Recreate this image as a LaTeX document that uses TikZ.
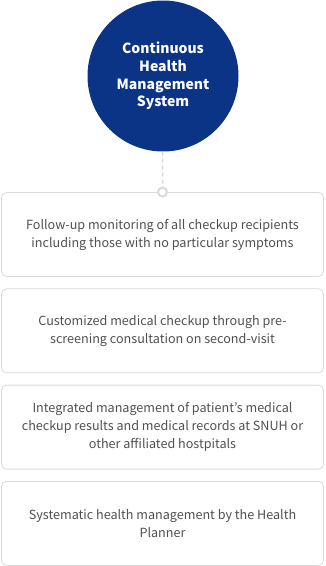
\documentclass[tikz,border=0pt]{standalone}
\usepackage{fontspec}
\setmainfont{Noto Sans CJK KR}
\usepackage{xcolor}
\usetikzlibrary{positioning}

\definecolor{hmblue}{HTML}{0B3487}
\definecolor{hmtext}{HTML}{505050}
\definecolor{hmline}{HTML}{D9D9D9}

\begin{document}
\begin{tikzpicture}[
    x=1pt, y=-1pt,
    node distance=11.5pt,
    hub/.style={circle, fill=hmblue, minimum size=151pt, inner sep=0pt,
      align=center, text=white, font=\fontsize{14}{17.8}\selectfont\bfseries},
    itembox/.style={draw=hmline, line width=0.8pt, rectangle, rounded corners=5pt,
      minimum height=84pt, minimum width=322pt, align=center, text=hmtext,
      font=\fontsize{12.6}{18}\selectfont},
    ring/.style={circle, draw=hmline, line width=2pt, fill=white,
      minimum size=9pt, inner sep=0pt},
    link/.style={draw=hmline, line width=1.5pt, dash pattern=on 4pt off 3pt}
]
\useasboundingbox (0,0) rectangle (325,566);
\node[hub] (hub) at (163,76) {Continuous\\Health\\Management\\System};
\node[itembox] (follow) at (162.5,234.5) {Follow-up monitoring of all checkup recipients\\including those with no particular symptoms};
\node[itembox, below=of follow] (custom) {Customized medical checkup through pre-\\screening consultation on second-visit};
\node[itembox, below=of custom] (records) {Integrated management of patient’s medical\\checkup results and medical records at SNUH or\\other affiliated hostpitals};
\node[itembox, below=of records] (planner) {Systematic health management by the Health\\Planner};

\draw[link] (hub) -- (follow.north);
\node[ring] (dot) at (follow.north) {};
\end{tikzpicture}
\end{document}
